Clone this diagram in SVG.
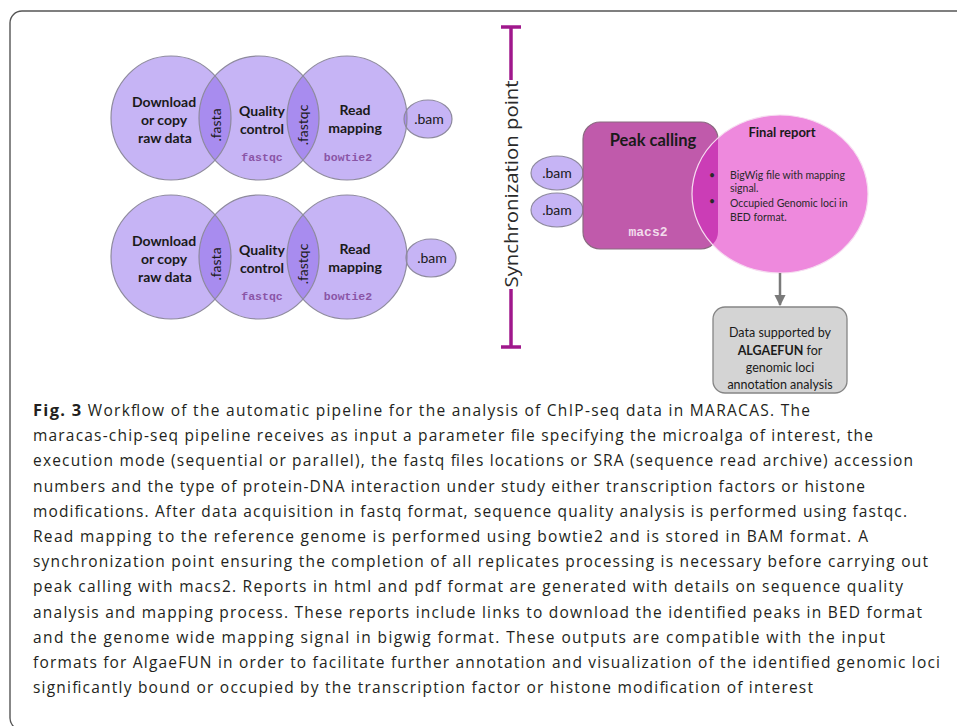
<svg xmlns="http://www.w3.org/2000/svg" width="957" height="726" viewBox="0 0 957 726">
<defs>
<style>
.circ{fill:#c6b4f5;stroke:none}
.lens{fill:#a88cef}
.edge{fill:none;stroke:#8e8a9e;stroke-width:1.2}
.lbl{font-family:"Lato","Liberation Sans",sans-serif;font-weight:bold;font-size:14px;fill:#1a1a1a;text-anchor:middle}
.rot{font-family:"Lato","Liberation Sans",sans-serif;font-size:14px;fill:#1a1a1a;text-anchor:middle;dominant-baseline:central}
.tool{font-family:"Liberation Mono","Courier New",monospace;font-weight:bold;font-size:11.5px;fill:#8a55a6;text-anchor:middle}
.bamt{font-family:"Lato","Liberation Sans",sans-serif;font-size:14px;fill:#1a1a1a;text-anchor:middle}
.small{font-family:"Lato","Liberation Sans",sans-serif;font-size:10.5px;fill:#2a2a2a}
.box{font-family:"Lato","Liberation Sans",sans-serif;font-size:12.5px;fill:#1a1a1a;text-anchor:middle}
.cap{font-family:"Open Sans","Noto Sans",sans-serif;font-size:15.5px;fill:#231f20}
.sync{stroke:#a0188c;stroke-width:3.5;fill:none}
</style>
<clipPath id="k1t"><ellipse cx="171" cy="118" rx="60" ry="62"/></clipPath>
<clipPath id="k2t"><ellipse cx="259" cy="118" rx="60" ry="62"/></clipPath>
<clipPath id="k3t"><ellipse cx="347" cy="118" rx="60" ry="62"/></clipPath>
<clipPath id="k1b"><ellipse cx="171" cy="257" rx="60" ry="62"/></clipPath>
<clipPath id="k2b"><ellipse cx="259" cy="257" rx="60" ry="62"/></clipPath>
<clipPath id="k3b"><ellipse cx="347" cy="257" rx="60" ry="62"/></clipPath>
<clipPath id="kpk"><rect x="583" y="122" width="135" height="127" rx="17"/></clipPath>
<marker id="arr" viewBox="0 0 10 10" refX="9" refY="5" markerWidth="4.5" markerHeight="4.5" orient="auto"><path d="M0,0 L10,5 L0,10 z" fill="#7a7a7a"/></marker>
</defs>

<rect x="10" y="11" width="970" height="719" rx="12" fill="#ffffff" stroke="#555555" stroke-width="1.4"/>

<g id="row1">
<g id="download1">
<ellipse class="circ" cx="171" cy="118" rx="60" ry="62"/>
</g>
<g id="quality1">
<ellipse class="circ" cx="259" cy="118" rx="60" ry="62"/>
</g>
<g id="mapping1">
<ellipse class="circ" cx="347" cy="118" rx="60" ry="62"/>
</g>
<g id="bam1">
<ellipse class="circ" cx="428" cy="119" rx="24" ry="19"/>
</g>
<ellipse class="lens" cx="259" cy="118" rx="60" ry="62" clip-path="url(#k1t)"/>
<ellipse class="lens" cx="347" cy="118" rx="60" ry="62" clip-path="url(#k2t)"/>
<ellipse class="lens" cx="428" cy="119" rx="24" ry="19" clip-path="url(#k3t)"/>
<ellipse class="edge" cx="171" cy="118" rx="60" ry="62"/>
<ellipse class="edge" cx="259" cy="118" rx="60" ry="62"/>
<ellipse class="edge" cx="347" cy="118" rx="60" ry="62"/>
<ellipse class="edge" cx="428" cy="119" rx="24" ry="19"/>
<text class="lbl" x="164" y="107">Download</text>
<text class="lbl" x="164" y="125">or copy</text>
<text class="lbl" x="165" y="143">raw data</text>
<text class="rot" transform="translate(215,125) rotate(-90)">.fasta</text>
<text class="lbl" x="262" y="116">Quality</text>
<text class="lbl" x="262" y="134">control</text>
<text class="tool" x="262" y="161">fastqc</text>
<text class="rot" transform="translate(302,125) rotate(-90)">.fastqc</text>
<text class="lbl" x="355" y="115">Read</text>
<text class="lbl" x="355" y="133">mapping</text>
<text class="tool" x="348" y="161">bowtie2</text>
<text class="bamt" x="429" y="124">.bam</text>
</g>

<g id="row2">
<g id="download2">
<ellipse class="circ" cx="171" cy="257" rx="60" ry="62"/>
</g>
<g id="quality2">
<ellipse class="circ" cx="259" cy="257" rx="60" ry="62"/>
</g>
<g id="mapping2">
<ellipse class="circ" cx="347" cy="257" rx="60" ry="62"/>
</g>
<g id="bam2">
<ellipse class="circ" cx="431" cy="258" rx="25" ry="19"/>
</g>
<ellipse class="lens" cx="259" cy="257" rx="60" ry="62" clip-path="url(#k1b)"/>
<ellipse class="lens" cx="347" cy="257" rx="60" ry="62" clip-path="url(#k2b)"/>
<ellipse class="lens" cx="431" cy="258" rx="25" ry="19" clip-path="url(#k3b)"/>
<ellipse class="edge" cx="171" cy="257" rx="60" ry="62"/>
<ellipse class="edge" cx="259" cy="257" rx="60" ry="62"/>
<ellipse class="edge" cx="347" cy="257" rx="60" ry="62"/>
<ellipse class="edge" cx="431" cy="258" rx="25" ry="19"/>
<text class="lbl" x="164" y="246">Download</text>
<text class="lbl" x="164" y="264">or copy</text>
<text class="lbl" x="165" y="282">raw data</text>
<text class="rot" transform="translate(215,264) rotate(-90)">.fasta</text>
<text class="lbl" x="262" y="255">Quality</text>
<text class="lbl" x="262" y="273">control</text>
<text class="tool" x="262" y="300">fastqc</text>
<text class="rot" transform="translate(302,264) rotate(-90)">.fastqc</text>
<text class="lbl" x="355" y="254">Read</text>
<text class="lbl" x="355" y="272">mapping</text>
<text class="tool" x="348" y="300">bowtie2</text>
<text class="bamt" x="432" y="263">.bam</text>
</g>

<g id="sync">
<line class="sync" x1="501" y1="27" x2="521" y2="27"/>
<line class="sync" x1="511" y1="27" x2="511" y2="80"/>
<line class="sync" x1="511" y1="289" x2="511" y2="347"/>
<line class="sync" x1="501" y1="347" x2="521" y2="347"/>
<text font-family="Open Sans, Liberation Sans, sans-serif" font-size="19" fill="#2a2a2a" text-anchor="middle" dominant-baseline="central" transform="translate(511,184) rotate(-90)" textLength="207" lengthAdjust="spacingAndGlyphs">Synchronization point</text>
</g>

<g id="bam3">
<ellipse cx="557" cy="173" rx="26" ry="17" fill="#c6b4f5" stroke="#8e8a9e" stroke-width="1.2"/>
<text class="bamt" x="557" y="178">.bam</text>
</g>
<g id="bam4">
<ellipse cx="557" cy="210" rx="26" ry="17" fill="#c6b4f5" stroke="#8e8a9e" stroke-width="1.2"/>
<text class="bamt" x="557" y="215">.bam</text>
</g>

<g id="peakcalling">
<rect x="583" y="122" width="135" height="127" rx="17" fill="#c05aab" stroke="#8a6a80" stroke-width="1.2"/>
</g>
<g id="finalreport">
<ellipse cx="780" cy="194" rx="88" ry="79" fill="#ee89dd"/>
<ellipse cx="780" cy="194" rx="88" ry="79" fill="#cb3db6" clip-path="url(#kpk)"/>
<ellipse cx="780" cy="194" rx="88" ry="79" fill="none" stroke="#f6dcf0" stroke-width="1.2"/>
<text x="782" y="137" font-family="Lato, Liberation Sans, sans-serif" font-weight="bold" font-size="13" fill="#1a1a1a" text-anchor="middle">Final report</text>
<text class="small" x="709" y="179">•</text>
<text class="small" x="709" y="205">•</text>
<text class="small" x="730" y="179">BigWig file with mapping</text>
<text class="small" x="730" y="192">signal.</text>
<text class="small" x="730" y="207">Occupied Genomic loci in</text>
<text class="small" x="730" y="221">BED format.</text>
</g>
<text x="653" y="146" font-family="Lato, Liberation Sans, sans-serif" font-weight="bold" font-size="16.5" fill="#1a1a1a" text-anchor="middle">Peak calling</text>
<text x="648" y="236" font-family="Liberation Mono, Courier New, monospace" font-weight="bold" font-size="13" fill="#f2dcec" text-anchor="middle">macs2</text>

<g id="algaefun">
<rect x="713" y="307" width="134" height="86" rx="12" fill="#d4d4d4" stroke="#858585" stroke-width="1.3"/>
<text class="box" x="780" y="337">Data supported by</text>
<text class="box" x="780" y="355"><tspan font-weight="bold">ALGAEFUN</tspan> for</text>
<text class="box" x="780" y="372">genomic loci</text>
<text class="box" x="780" y="389">annotation analysis</text>
</g>

<g id="connectors">
<line x1="780" y1="273" x2="780" y2="305" stroke="#7a7a7a" stroke-width="2.5" marker-end="url(#arr)"/>
</g>

<g id="caption">
<text class="cap" x="33" y="416" textLength="777" lengthAdjust="spacing"><tspan font-weight="bold" font-size="16.5">Fig. 3</tspan>  Workflow of the automatic pipeline for the analysis of ChIP-seq data in MARACAS. The</text>
<text class="cap" x="33" y="441.2" textLength="840" lengthAdjust="spacing">maracas-chip-seq pipeline receives as input a parameter file specifying the microalga of interest, the</text>
<text class="cap" x="33" y="466.4" textLength="880" lengthAdjust="spacing">execution mode (sequential or parallel), the fastq files locations or SRA (sequence read archive) accession</text>
<text class="cap" x="33" y="491.6" textLength="832" lengthAdjust="spacing">numbers and the type of protein-DNA interaction under study either transcription factors or histone</text>
<text class="cap" x="33" y="516.8" textLength="874" lengthAdjust="spacing">modifications. After data acquisition in fastq format, sequence quality analysis is performed using fastqc.</text>
<text class="cap" x="33" y="542" textLength="818" lengthAdjust="spacing">Read mapping to the reference genome is performed using bowtie2 and is stored in BAM format.</text>
<text class="cap" x="868" y="542" text-anchor="end">A</text>
<text class="cap" x="33" y="567.2" textLength="895" lengthAdjust="spacing">synchronization point ensuring the completion of all replicates processing is necessary before carrying out</text>
<text class="cap" x="33" y="592.4" textLength="870" lengthAdjust="spacing">peak calling with macs2. Reports in html and pdf format are generated with details on sequence quality</text>
<text class="cap" x="33" y="617.6" textLength="889" lengthAdjust="spacing">analysis and mapping process. These reports include links to download the identified peaks in BED format</text>
<text class="cap" x="33" y="642.8" textLength="852" lengthAdjust="spacing">and the genome wide mapping signal in bigwig format. These outputs are compatible with the input</text>
<text class="cap" x="33" y="668" textLength="907" lengthAdjust="spacing">formats for AlgaeFUN in order to facilitate further annotation and visualization of the identified genomic loci</text>
<text class="cap" x="33" y="693.2" textLength="780" lengthAdjust="spacing">significantly bound or occupied by the transcription factor or histone modification of interest</text>
</g>
</svg>
